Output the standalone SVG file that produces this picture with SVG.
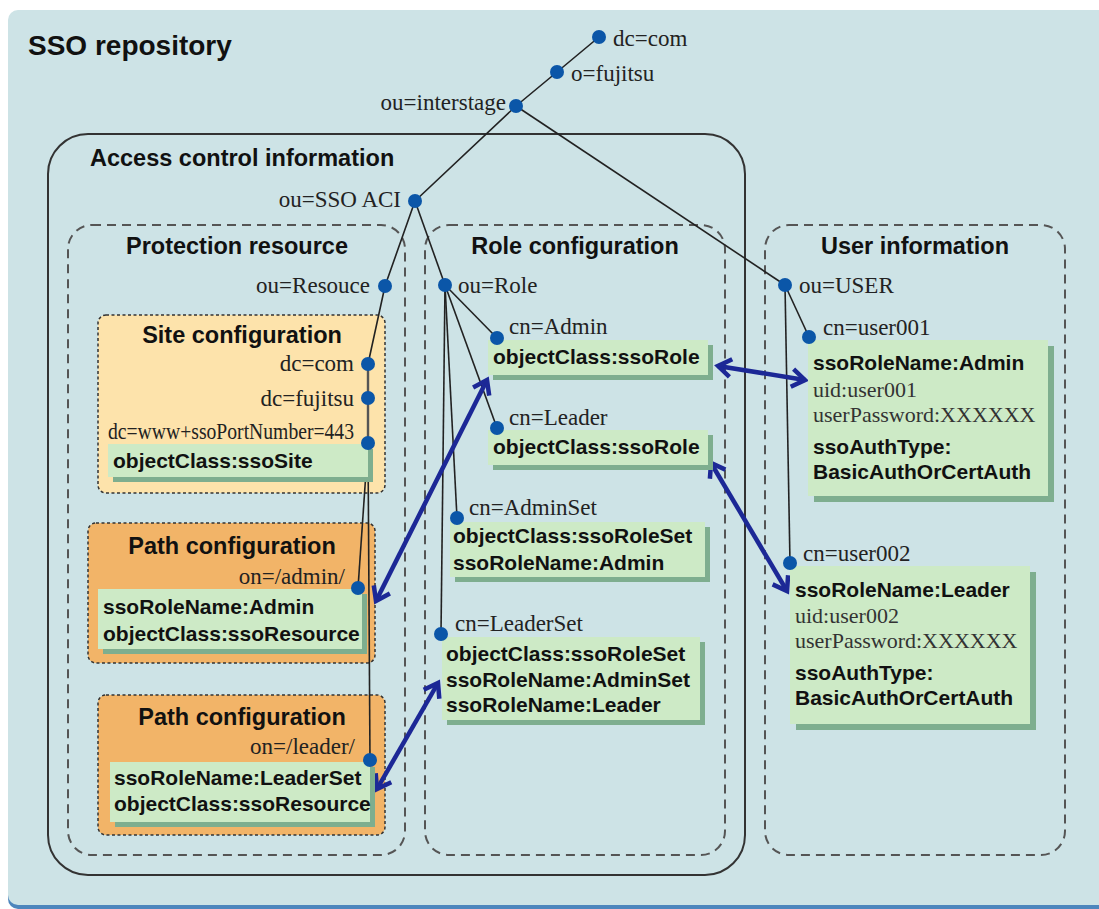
<svg xmlns="http://www.w3.org/2000/svg" width="1099" height="909" viewBox="0 0 1099 909">
  <defs>
    <style>
      .panel{fill:#cde3e6}
      .panel-edge{fill:#4d86bd}
      .acc{fill:none;stroke:#333;stroke-width:2}
      .sec{fill:none;stroke:#555;stroke-width:2;stroke-dasharray:9 6}
      .site{fill:#fde3ab;stroke:#333;stroke-width:1.5;stroke-dasharray:3 2.5}
      .pathcfg{fill:#f2b468;stroke:#333;stroke-width:1.5;stroke-dasharray:3 2.5}
      .box{fill:#cdeac6}
      .shadow{fill:#7eae8f}
      .h1{font-family:"Liberation Sans",Arial,Helvetica,sans-serif;font-weight:bold;font-size:28px;fill:#111}
      .h2{font-family:"Liberation Sans",Arial,Helvetica,sans-serif;font-weight:bold;font-size:23.5px;fill:#111}
      .attr{font-family:"Liberation Sans",Arial,Helvetica,sans-serif;font-weight:bold;font-size:21px;fill:#111}
      .dn{font-family:"Liberation Serif","Times New Roman",serif;font-size:23px;fill:#222}
      .val{font-family:"Liberation Serif","Times New Roman",serif;font-size:22px;fill:#333}
      .end{text-anchor:end}
      .mid{text-anchor:middle}
      .dot{fill:#0b56a8}
      .edge{fill:none;stroke:#222;stroke-width:1.6}
      .trunk{fill:none;stroke:#555;stroke-width:2.4}
      .link{fill:none;stroke:#1c2896;stroke-width:4.5;marker-start:url(#ah);marker-end:url(#ah)}
    </style>
    <marker id="ah" viewBox="-16 -12 22 24" refX="0" refY="0" markerWidth="22" markerHeight="24" markerUnits="userSpaceOnUse" orient="auto-start-reverse">
      <path d="M-13,-9 L0,0 L-13,9" fill="none" stroke="#1c2896" stroke-width="4.5" stroke-linejoin="miter"/>
    </marker>
  </defs>

  <!-- repository panel -->
  <g id="repository">
    <rect class="panel-edge" x="8" y="14" width="1100" height="895" rx="10"/>
    <rect class="panel" x="8" y="10" width="1100" height="895" rx="10"/>
    <text class="h1" x="28" y="55">SSO repository</text>
  </g>

  <!-- containers -->
  <g id="access-control">
    <rect class="acc" x="48" y="134" width="697" height="741" rx="40"/>
    <text class="h2" x="90" y="166">Access control information</text>
  </g>
  <g id="protection-resource">
    <rect class="sec" x="68" y="225" width="337" height="630" rx="24"/>
    <text class="h2 mid" x="237" y="254">Protection resource</text>
  </g>
  <g id="role-configuration">
    <rect class="sec" x="425" y="225" width="300" height="630" rx="24"/>
    <text class="h2 mid" x="575" y="254">Role configuration</text>
  </g>
  <g id="user-information">
    <rect class="sec" x="765" y="225" width="300" height="630" rx="24"/>
    <text class="h2 mid" x="915" y="254">User information</text>
  </g>
  <g id="site-configuration">
    <rect class="site" x="98" y="315" width="287" height="178" rx="8"/>
    <text class="h2 mid" x="242" y="343">Site configuration</text>
  </g>
  <g id="path-admin">
    <rect class="pathcfg" x="88" y="523" width="287" height="140" rx="8"/>
    <text class="h2 mid" x="232" y="554">Path configuration</text>
  </g>
  <g id="path-leader">
    <rect class="pathcfg" x="98" y="695" width="287" height="140" rx="8"/>
    <text class="h2 mid" x="242" y="725">Path configuration</text>
  </g>

  <!-- tree edges and role links -->
  <g id="connectors">
    <polyline class="edge" points="599,37 557,72 516,106 415,201"/>
    <line class="edge" x1="516" y1="106" x2="785" y2="285"/>
    <polyline class="edge" points="415,201 385,286 368,364"/>
    <line class="trunk" x1="368" y1="364" x2="368" y2="443"/>
    <line class="edge" x1="368" y1="443" x2="358" y2="588"/>
    <line class="edge" x1="368" y1="443" x2="370" y2="760"/>
    <line class="edge" x1="415" y1="201" x2="445" y2="285"/>
    <line class="edge" x1="445" y1="285" x2="497" y2="338"/>
    <line class="edge" x1="445" y1="285" x2="497" y2="428"/>
    <line class="edge" x1="445" y1="285" x2="457" y2="518"/>
    <line class="edge" x1="445" y1="285" x2="441" y2="634"/>
    <line class="edge" x1="785" y1="285" x2="809" y2="337"/>
    <line class="edge" x1="785" y1="285" x2="790" y2="563"/>

    <line class="link" x1="718" y1="366" x2="805" y2="380"/>
    <line class="link" x1="711" y1="463" x2="787" y2="591"/>
    <line class="link" x1="487" y1="380" x2="376" y2="601"/>
    <line class="link" x1="438" y1="683" x2="377" y2="789"/>
  </g>

  <!-- directory entries -->
  <g id="dc-com">
    <circle class="dot" cx="599" cy="37" r="7"/>
    <text class="dn" x="613" y="46">dc=com</text>
  </g>
  <g id="o-fujitsu">
    <circle class="dot" cx="557" cy="72" r="7"/>
    <text class="dn" x="571" y="81">o=fujitsu</text>
  </g>
  <g id="ou-interstage">
    <circle class="dot" cx="516" cy="106" r="7"/>
    <text class="dn end" x="506" y="110">ou=interstage</text>
  </g>
  <g id="ou-sso-aci">
    <circle class="dot" cx="415" cy="201" r="7"/>
    <text class="dn end" x="401" y="207">ou=SSO ACI</text>
  </g>
  <g id="ou-resouce">
    <circle class="dot" cx="385" cy="286" r="7"/>
    <text class="dn end" x="370" y="293">ou=Resouce</text>
  </g>
  <g id="site-dc-com">
    <circle class="dot" cx="368" cy="364" r="7"/>
    <text class="dn end" x="354" y="371">dc=com</text>
  </g>
  <g id="site-dc-fujitsu">
    <circle class="dot" cx="368" cy="398" r="7"/>
    <text class="dn end" x="354" y="406">dc=fujitsu</text>
  </g>
  <g id="site-dc-www">
    <rect class="shadow" x="113" y="449" width="260" height="33"/>
    <rect class="box" x="108" y="444" width="260" height="33"/>
    <text class="attr" x="113" y="468">objectClass:ssoSite</text>
    <circle class="dot" cx="368" cy="443" r="7"/>
    <text class="dn end" x="354" y="439" textLength="246" lengthAdjust="spacingAndGlyphs">dc=www+ssoPortNumber=443</text>
  </g>
  <g id="on-admin">
    <rect class="shadow" x="103" y="594" width="264" height="60"/>
    <rect class="box" x="98" y="589" width="264" height="60"/>
    <text class="attr" x="103" y="614">ssoRoleName:Admin</text>
    <text class="attr" x="103" y="641">objectClass:ssoResource</text>
    <circle class="dot" cx="358" cy="588" r="7"/>
    <text class="dn end" x="345" y="584">on=/admin/</text>
  </g>
  <g id="on-leader">
    <rect class="shadow" x="115" y="767" width="260" height="60"/>
    <rect class="box" x="110" y="762" width="260" height="60"/>
    <text class="attr" x="114" y="785">ssoRoleName:LeaderSet</text>
    <text class="attr" x="114" y="811">objectClass:ssoResource</text>
    <circle class="dot" cx="370" cy="760" r="7"/>
    <text class="dn end" x="355" y="754">on=/leader/</text>
  </g>
  <g id="ou-role">
    <circle class="dot" cx="445" cy="285" r="7"/>
    <text class="dn" x="458" y="293">ou=Role</text>
  </g>
  <g id="cn-admin">
    <rect class="shadow" x="493" y="345" width="220" height="35"/>
    <rect class="box" x="488" y="340" width="220" height="35"/>
    <text class="attr" x="493" y="364">objectClass:ssoRole</text>
    <circle class="dot" cx="497" cy="338" r="7"/>
    <text class="dn" x="509" y="334">cn=Admin</text>
  </g>
  <g id="cn-leader">
    <rect class="shadow" x="493" y="435" width="220" height="35"/>
    <rect class="box" x="488" y="430" width="220" height="35"/>
    <text class="attr" x="493" y="454">objectClass:ssoRole</text>
    <circle class="dot" cx="497" cy="428" r="7"/>
    <text class="dn" x="509" y="425">cn=Leader</text>
  </g>
  <g id="cn-adminset">
    <rect class="shadow" x="455" y="527" width="255" height="55"/>
    <rect class="box" x="450" y="522" width="255" height="55"/>
    <text class="attr" x="453" y="543">objectClass:ssoRoleSet</text>
    <text class="attr" x="453" y="570">ssoRoleName:Admin</text>
    <circle class="dot" cx="457" cy="518" r="7"/>
    <text class="dn" x="469" y="515">cn=AdminSet</text>
  </g>
  <g id="cn-leaderset">
    <rect class="shadow" x="447" y="642" width="258" height="83"/>
    <rect class="box" x="442" y="637" width="258" height="83"/>
    <text class="attr" x="446" y="661">objectClass:ssoRoleSet</text>
    <text class="attr" x="446" y="687">ssoRoleName:AdminSet</text>
    <text class="attr" x="446" y="712">ssoRoleName:Leader</text>
    <circle class="dot" cx="441" cy="634" r="7"/>
    <text class="dn" x="455" y="631">cn=LeaderSet</text>
  </g>
  <g id="ou-user">
    <circle class="dot" cx="785" cy="285" r="7"/>
    <text class="dn" x="799" y="293">ou=USER</text>
  </g>
  <g id="cn-user001">
    <rect class="shadow" x="814" y="346" width="240" height="156"/>
    <rect class="box" x="808" y="340" width="240" height="156"/>
    <text class="attr" x="813" y="370">ssoRoleName:Admin</text>
    <text class="val" x="813" y="397">uid:user001</text>
    <text class="val" x="813" y="422">userPassword:XXXXXX</text>
    <text class="attr" x="813" y="454">ssoAuthType:</text>
    <text class="attr" x="813" y="479">BasicAuthOrCertAuth</text>
    <circle class="dot" cx="809" cy="337" r="7"/>
    <text class="dn" x="823" y="335">cn=user001</text>
  </g>
  <g id="cn-user002">
    <rect class="shadow" x="796" y="572" width="240" height="158"/>
    <rect class="box" x="790" y="566" width="240" height="158"/>
    <text class="attr" x="795" y="597">ssoRoleName:Leader</text>
    <text class="val" x="795" y="623">uid:user002</text>
    <text class="val" x="795" y="648">userPassword:XXXXXX</text>
    <text class="attr" x="795" y="680">ssoAuthType:</text>
    <text class="attr" x="795" y="705">BasicAuthOrCertAuth</text>
    <circle class="dot" cx="790" cy="563" r="7"/>
    <text class="dn" x="803" y="561">cn=user002</text>
  </g>
</svg>
